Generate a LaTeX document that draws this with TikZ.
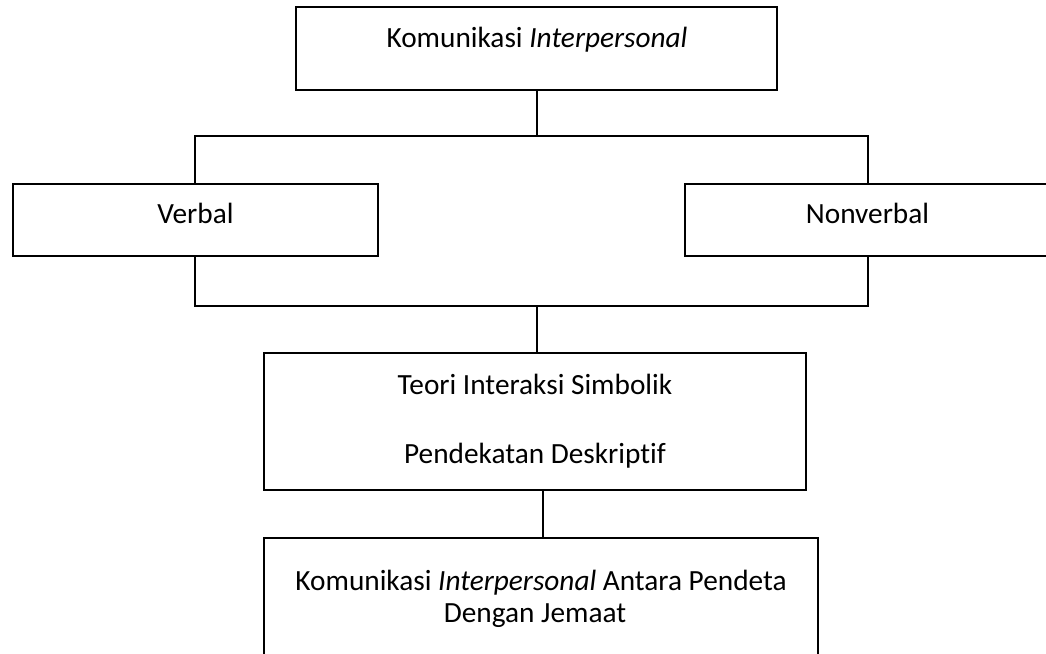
\documentclass[tikz,border=0pt]{standalone}
\usepackage{fontspec}
\setmainfont{Carlito}[Ligatures={NoCommon}]
\begin{document}
\begin{tikzpicture}[x=1pt,y=-1pt, line width=1.3pt,
  box/.style={draw, rectangle, inner sep=0pt},
  lbl/.style={anchor=base, inner sep=0pt, font=\fontsize{29.3}{35}\selectfont}]
\useasboundingbox (0,0) rectangle (1046,653);
\clip (0,0) rectangle (1046,653);
% boxes
\node[box, minimum width=481pt, minimum height=83pt] (top) at (536.5,48.5) {};
\node[box, minimum width=365pt, minimum height=72pt] (verbal) at (195.5,220) {};
\node[box, minimum width=415pt, minimum height=72pt] (nonverbal) at (892.5,220) {};
\node[box, minimum width=542pt, minimum height=137pt] (mid) at (535,421.5) {};
\node[box, minimum width=554pt, minimum height=164pt] (bot) at (541,620) {};
% texts
\node[lbl] (t0) at (537,47) {Komunikasi \textit{Interpersonal}};
\node[lbl] (tv) at (195.5,223) {Verbal};
\node[lbl] (tn) at (867.5,223) {Nonverbal};
\node[lbl] (t1) at (535,394) {Teori Interaksi Simbolik};
\node[lbl] (t2) at (535,463) {Pendekatan Deskriptif};
\node[lbl] (t3) at (541,590) {Komunikasi \textit{Interpersonal} Antara Pendeta};
\node[lbl] (t4) at (535,622) {Dengan Jemaat};
% junctions
\coordinate (jt) at (537,136);
\coordinate (jl) at (195,136);
\coordinate (jr) at (868,136);
\coordinate (jb) at (537,306);
\coordinate (jbl) at (195,306);
\coordinate (jbr) at (868,306);
\coordinate (jm) at (543,500);
% connectors
\draw (jt |- top.south) -- (jt);
\draw (jl |- verbal.north) -- (jl) -- (jr) -- (jr |- nonverbal.north);
\draw (jbl |- verbal.south) -- (jbl) -- (jbr) -- (jbr |- nonverbal.south);
\draw (jb) -- (jb |- mid.north);
\draw (jm |- mid.south) -- (jm |- bot.north);
\end{tikzpicture}
\end{document}
